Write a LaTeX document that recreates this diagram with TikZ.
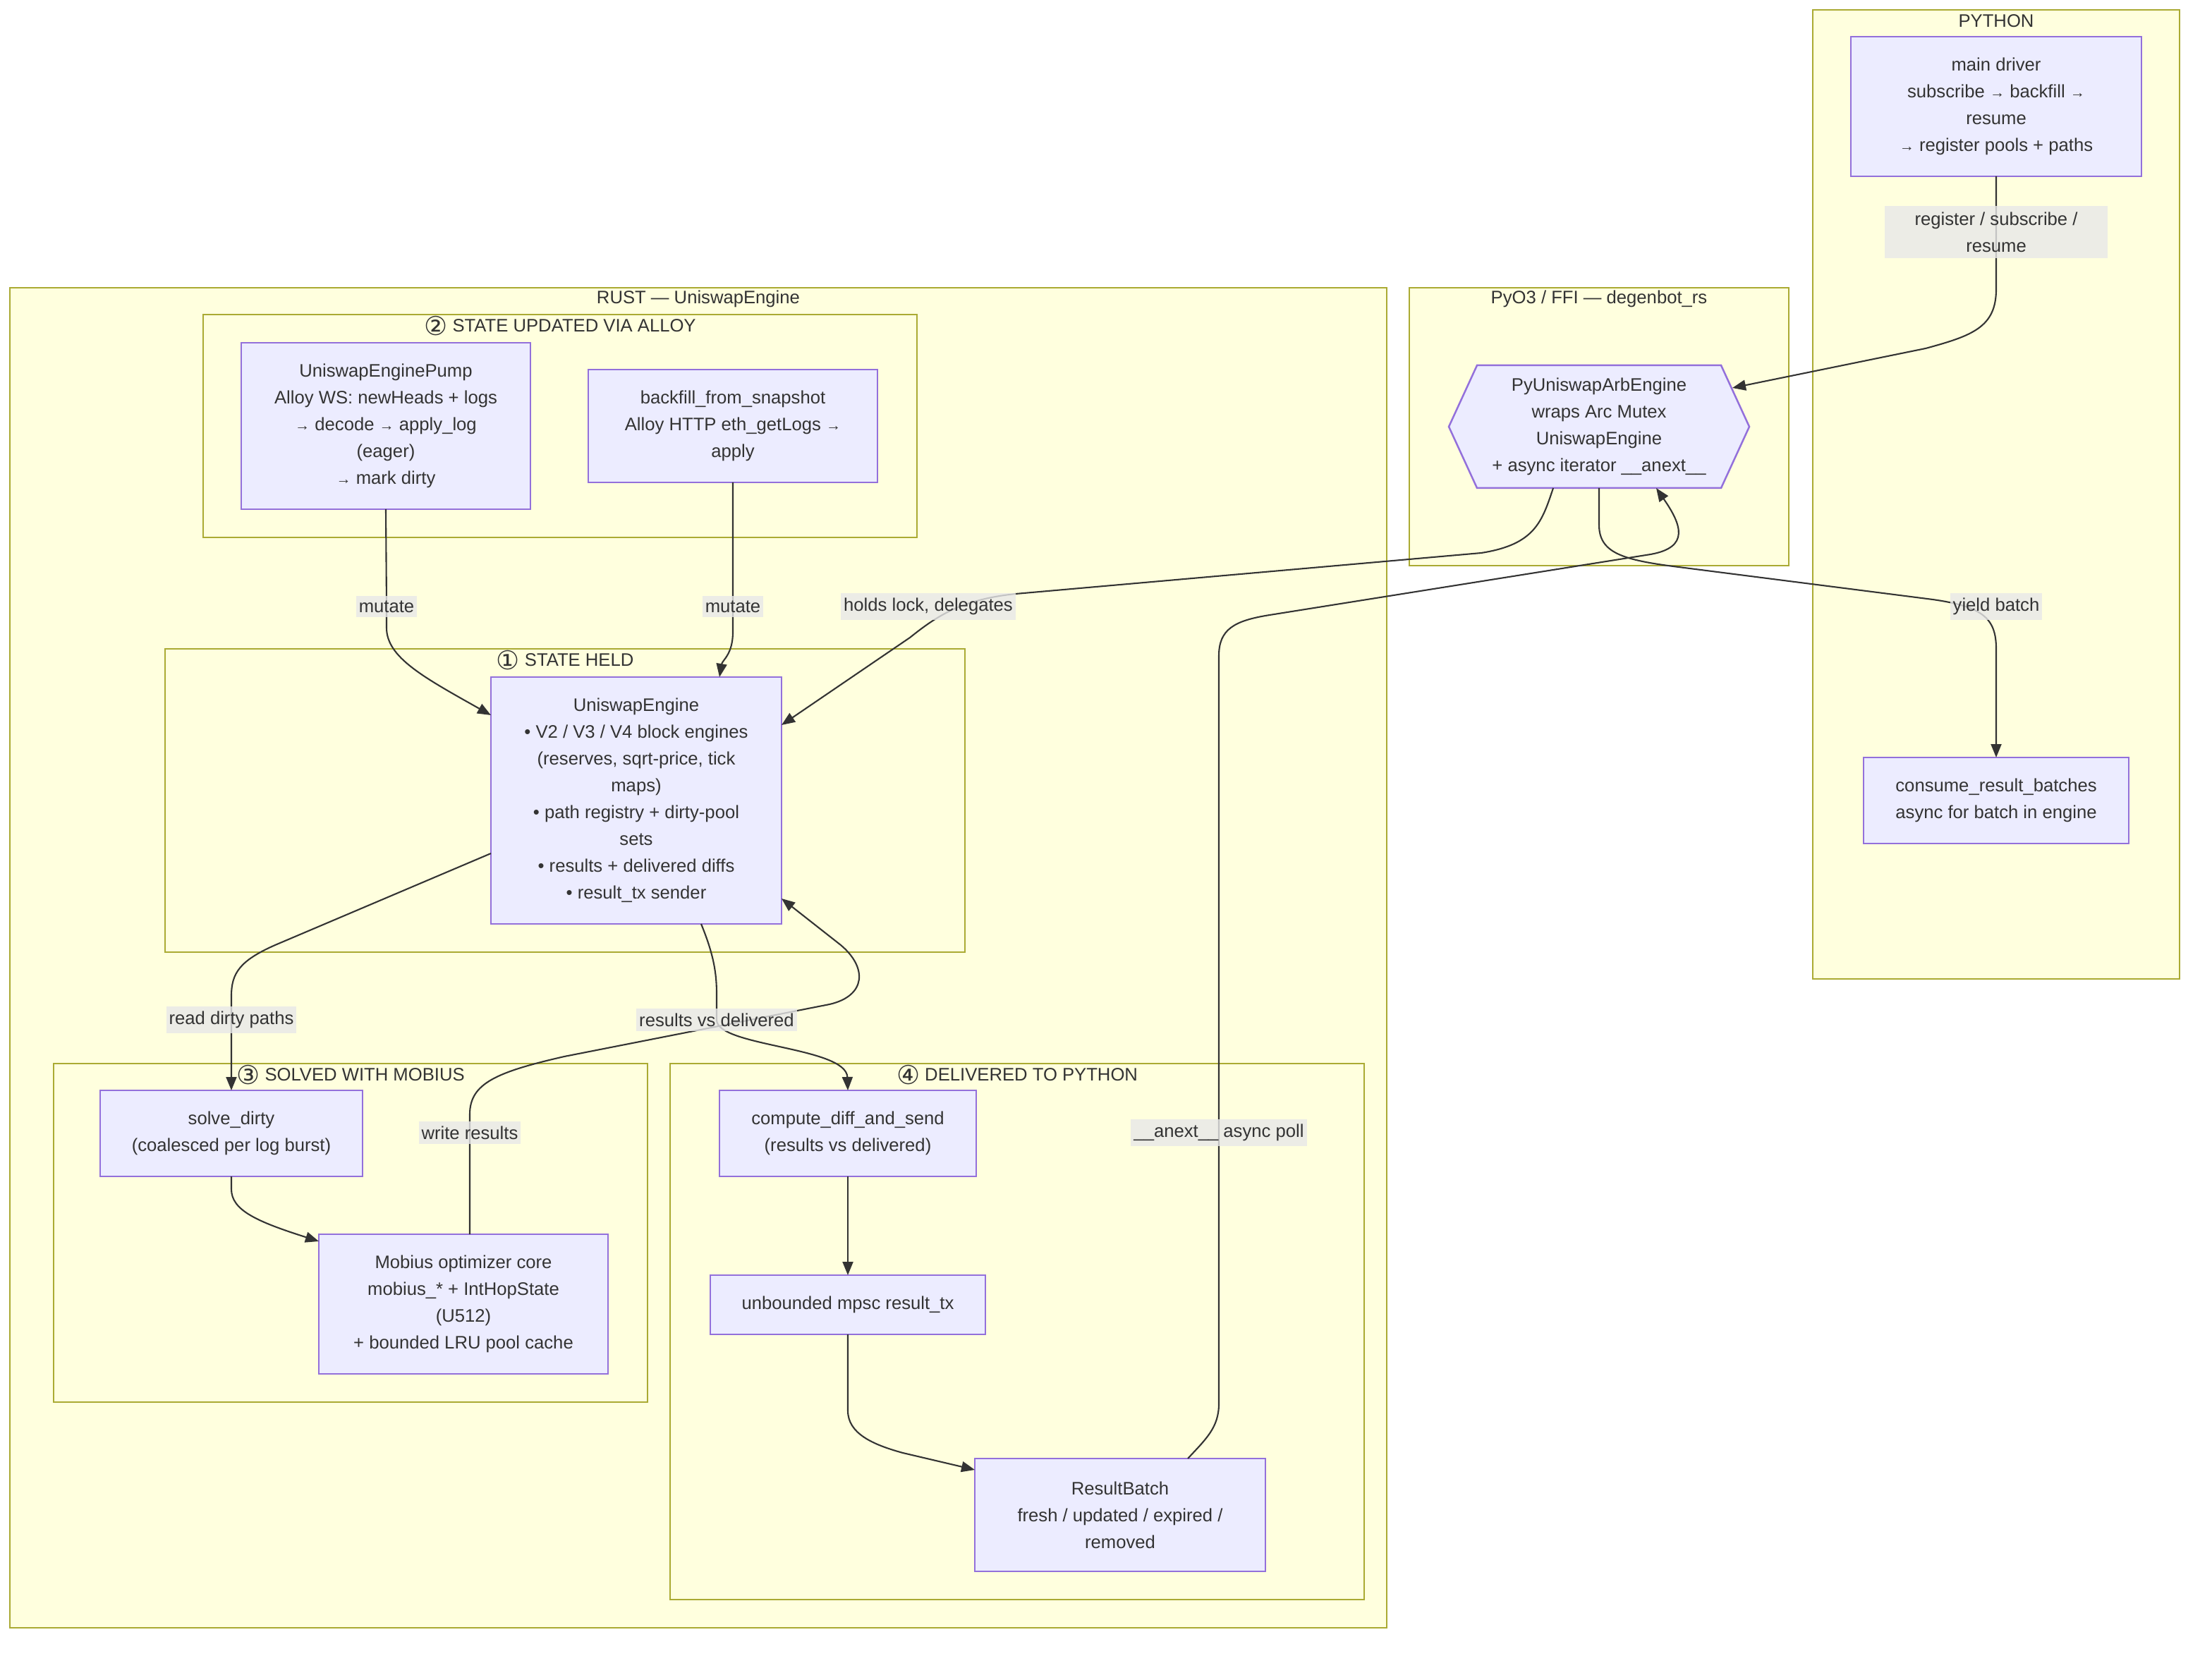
\documentclass[tikz,border=0pt]{standalone}
\usepackage{fontspec}
\setmainfont{Liberation Sans}
\newfontfamily\circfont{DejaVu Sans}
\usetikzlibrary{arrows.meta,calc}

\definecolor{clusterfill}{HTML}{FFFFDE}
\definecolor{clusterline}{HTML}{AAAA33}
\definecolor{nodefill}{HTML}{ECECFF}
\definecolor{nodeline}{HTML}{9370DB}
\definecolor{lblfill}{HTML}{E8E8E8}
\definecolor{inkgray}{HTML}{333333}
\newcommand\tinyto{{\fontsize{6pt}{5pt}\selectfont →}}
\newcommand\circnum[1]{\raisebox{-1.3pt}{\circfont\fontsize{10.5pt}{10pt}\selectfont #1}}

\begin{document}
\begin{tikzpicture}[
  x=0.2mm, y=-0.2mm,
  every node/.style={font=\fontsize{7.3pt}{10.8pt}\selectfont, text=inkgray},
  wh/.style 2 args={minimum width=#1*0.2mm, minimum height=#2*0.2mm},
  cluster/.style={draw=clusterline, fill=clusterfill, line width=0.25mm, inner sep=0, outer sep=0},
  ctitle/.style={inner sep=0},
  box/.style={draw=nodeline, fill=nodefill, line width=0.25mm, align=center, inner sep=0, outer sep=0},
  lbl/.style={fill=lblfill, fill opacity=0.8, text opacity=1, align=center, inner xsep=0.4mm, inner ysep=0.7mm},
  link/.style={draw=inkgray, line width=0.21mm, -{Triangle[length=1.9mm,width=1.5mm]}},
]
  \useasboundingbox (0,0) rectangle (1568,1174);

  \node[cluster, wh={260}{687}] (python) at (1415,350.5) {};
  \node[cluster, wh={269}{197}] (pyo3) at (1133.5,302.5) {};
  \node[cluster, wh={976}{950}] (rust) at (495,679) {};
  \node[cluster, wh={506}{158}] (alloy) at (397,302) {};
  \node[cluster, wh={567}{215}] (held) at (400.5,567.5) {};
  \node[cluster, wh={421}{240}] (mobiusc) at (248.5,874) {};
  \node[cluster, wh={492}{380}] (delivered) at (721,944) {};

  \node[ctitle] (tpython) at ($(python.north)+(0,8)$) {PYTHON};
  \node[ctitle] (tpyo3) at ($(pyo3.north)+(0,8)$) {PyO3 / FFI — degenbot\_rs};
  \node[ctitle] (trust) at ($(rust.north)+(0,8)$) {RUST — UniswapEngine};
  \node[ctitle] (talloy) at ($(alloy.north)+(0,8)$) {\circnum{②} STATE UPDATED VIA ALLOY};
  \node[ctitle] (theld) at ($(held.north)+(0,8)$) {\circnum{①} STATE HELD};
  \node[ctitle] (tmobiusc) at ($(mobiusc.north)+(0,8)$) {\circnum{③} SOLVED WITH MOBIUS};
  \node[ctitle] (tdelivered) at ($(delivered.north)+(0,8)$) {\circnum{④} DELIVERED TO PYTHON};

  \filldraw[draw=nodeline, fill=nodefill, line width=0.25mm] (1027,302.5) -- (1047,259) -- (1220,259) -- (1240,302.5) -- (1220,346) -- (1047,346) -- cycle;

  \node[box, wh={206}{99}] (driver) at (1415,75.5) {main driver\\subscribe \tinyto\ backfill \tinyto\\resume\\\tinyto\ register pools + paths};
  \node[box, wh={188}{61}] (consume) at (1415,567.5) {consume\_result\_batches\\async for batch in engine};
  \node[box, draw=none, fill=none, wh={173}{87}] (pyeng) at (1133.5,302.5) {PyUniswapArbEngine\\wraps Arc Mutex\\UniswapEngine\\+ async iterator \_\_anext\_\_};
  \node[box, wh={205}{118}] (pump) at (273.5,302) {UniswapEnginePump\\Alloy WS: newHeads + logs\\\tinyto\ decode \tinyto\ apply\_log\\(eager)\\\tinyto\ mark dirty};
  \node[box, wh={205}{80}] (backfill) at (519.5,302) {backfill\_from\_snapshot\\Alloy HTTP eth\_getLogs \tinyto\\apply};
  \node[box, wh={206}{175}] (engine) at (451,567.5) {UniswapEngine\\• V2 / V3 / V4 block engines\\(reserves, sqrt-price, tick\\maps)\\• path registry + dirty-pool\\sets\\• results + delivered diffs\\• result\_tx sender};
  \node[box, wh={186}{61}] (solve) at (164,803.5) {solve\_dirty\\(coalesced per log burst)};
  \node[box, wh={205}{99}] (mobius) at (328.5,924.5) {Mobius optimizer core\\mobius\_* + IntHopState\\(U512)\\+ bounded LRU pool cache};
  \node[box, wh={182}{61}] (compute) at (601,803.5) {compute\_diff\_and\_send\\(results vs delivered)};
  \node[box, wh={195}{42}] (unbounded) at (601,925) {unbounded mpsc result\_tx};
  \node[box, wh={206}{80}] (resbatch) at (794,1074) {ResultBatch\\fresh / updated / expired /\\removed};

  \coordinate (creg) at (1415,164.5);
  \coordinate (cmutA) at (274,430);
  \coordinate (cmutB) at (519.5,430);
  \coordinate (cholds) at (658,430);
  \coordinate (cyield) at (1415,430);
  \coordinate (cread) at (164,723);
  \coordinate (cresdel) at (508,723);
  \coordinate (cwrite) at (333,803);
  \coordinate (canext) at (864,803);

  \draw[link] (driver.south) -- (creg) -- (1415,205) .. controls (1415,232) and (1398,238) .. (1365,247) -- ($(pyeng.north east)+(8,16)$);
  \draw[link] ($(pyeng.south west)+(54,0)$) .. controls (1093,370) and (1088,386) .. (1050,392) -- (720,421) .. controls (682,425) and (665,436) .. (645,452) -- ($(engine.north east)+(0,34)$);
  \draw[link] (pyeng.south) -- (1133.5,372) .. controls (1133.5,392) and (1150,397) .. (1190,402) -- (1370,425) .. controls (1405,430) and (1415,438) .. (1415,460) -- (consume.north);
  \draw[link] ($(resbatch.north)+(48,0)$) .. controls (855,1020) and (864,1012) .. (864,995) -- (canext) -- (864,465) .. controls (864,446) and (875,440) .. (900,436) -- (1170,393) .. controls (1198,388) and (1192,372) .. ($(pyeng.south east)+(-46,0)$);
  \draw[link] (pump.south) -- (cmutA) -- (274,445) .. controls (274,466) and (300,480) .. ($(engine.north west)+(0,27)$);
  \draw[link] (backfill.south) -- (cmutB) -- (519.5,448) .. controls (519.5,464) and (512,468) .. ($(engine.north)+(59,0)$);
  \draw[link] ($(engine.south west)+(0,-50)$) -- (195,670) .. controls (170,681) and (164,690) .. (164,706) -- (cread) -- (solve.north);
  \draw[link] (solve.south) -- (164,843) .. controls (164,858) and (182,866) .. ($(mobius.north west)+(0,5)$);
  \draw[link] ($(mobius.north)+(4.5,0)$) -- (cwrite) -- (333,790) .. controls (333,768) and (352,760) .. (400,749) -- (588,712) .. controls (614,706) and (615,686) .. (596,670) -- ($(engine.south east)+(0,-18)$);
  \draw[link] ($(engine.south)+(46,0)$) .. controls (506,677) and (508,690) .. (508,705) -- (cresdel) .. controls (508,742) and (600,742) .. (compute.north);
  \draw[link] (compute.south) -- (unbounded.north);
  \draw[link] (unbounded.south) -- (601,1000) .. controls (601,1016) and (618,1024) .. (640,1030) -- ($(resbatch.north west)+(0,8)$);

  \node[lbl, wh={158}{37}] (lreg) at (creg) {register / subscribe /\\resume};
  \node[lbl] (lmutA) at (cmutA) {mutate};
  \node[lbl] (lmutB) at (cmutB) {mutate};
  \node[lbl] (lholds) at (cholds) {holds lock, delegates};
  \node[lbl] (lyield) at (cyield) {yield batch};
  \node[lbl] (lread) at (cread) {read dirty paths};
  \node[lbl] (lresdel) at (cresdel) {results vs delivered};
  \node[lbl] (lwrite) at (cwrite) {write results};
  \node[lbl] (lanext) at (canext) {\_\_anext\_\_ async poll};
\end{tikzpicture}
\end{document}
